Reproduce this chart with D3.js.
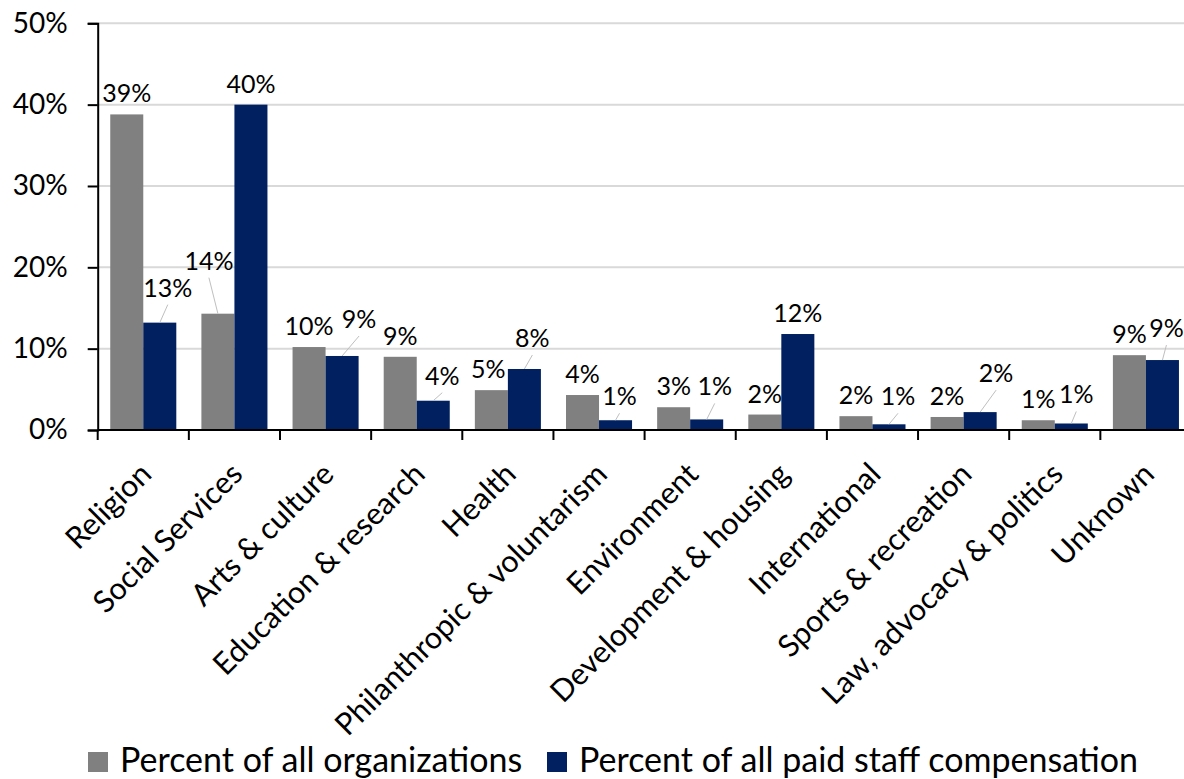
<!DOCTYPE html>
<html>
<head>
<meta charset="utf-8">
<script src="https://cdn.jsdelivr.net/npm/d3@7"></script>
<style>
  body { margin: 0; background: #fff; }
  svg { display: block; }
  text { font-family: Lato, "Open Sans", sans-serif; fill: #000; }
</style>
</head>
<body>
<svg id="chart" width="1184" height="779"></svg>
<script>
// Share of organizations and of paid staff compensation, by field
const categories = [
  "Religion", "Social Services", "Arts & culture", "Education & research",
  "Health", "Philanthropic & voluntarism", "Environment", "Development & housing",
  "International", "Sports & recreation", "Law, advocacy & politics", "Unknown"
];
const seriesNames = ["Percent of all organizations", "Percent of all paid staff compensation"];
const pctOrganizations = [0.388, 0.143, 0.102, 0.090, 0.049, 0.043, 0.028, 0.019, 0.017, 0.016, 0.012, 0.092];
const pctCompensation  = [0.132, 0.400, 0.091, 0.036, 0.075, 0.012, 0.013, 0.118, 0.007, 0.022, 0.008, 0.086];
const yTickValues = [0, 0.1, 0.2, 0.3, 0.4, 0.5];

// Data-label placement (px offsets from the top centre of each bar: [dx, baseline dy])
const orgLabelShift = [[0,-12],[-9,-44],[0,-12],[0,-12],[-3,-12],[0,-12],[0,-12],[0,-12],[0,-12],[0,-12],[0,-12],[0,-12]];
const compLabelShift = [[8,-26],[0,-12],[17,-28],[9,-16],[8,-22],[4,-15],[8,-24],[0,-12],[9,-19],[16,-30],[5,-20],[4,-23]];

const colors = ["#808080", "#002060"];
const svg = d3.select("#chart");

const margin = { left: 97.7, top: 23.3, bottom: 430 };
const x = d3.scaleBand().domain(categories).range([margin.left, margin.left + 91.15 * 12]).paddingInner(0).paddingOuter(0);
const xs = d3.scaleBand().domain([0, 1]).range([0, x.bandwidth()]).paddingInner(0).paddingOuter(0.38);
const y = d3.scaleLinear().domain([0, 0.5]).range([margin.bottom, margin.top]);

// Horizontal gridlines
svg.append("g")
  .selectAll("line")
  .data(yTickValues.filter(d => d > 0))
  .join("line")
  .attr("x1", margin.left).attr("x2", 1184)
  .attr("y1", d => y(d)).attr("y2", d => y(d))
  .attr("stroke", "#d9d9d9").attr("stroke-width", 2);

// Bars
const series = [pctOrganizations, pctCompensation];
const shifts = [orgLabelShift, compLabelShift];
series.forEach((vals, s) => {
  svg.append("g")
    .selectAll("rect")
    .data(vals)
    .join("rect")
    .attr("x", (d, i) => x(categories[i]) + xs(s))
    .attr("width", xs.bandwidth())
    .attr("y", d => y(d))
    .attr("height", d => y(0) - y(d))
    .attr("fill", colors[s]);
});

// Y axis
const yAxis = svg.append("g")
  .attr("transform", `translate(${margin.left},0)`)
  .call(d3.axisLeft(y).tickValues(yTickValues).tickFormat(d3.format(".0%")).tickSize(10).tickPadding(20));
yAxis.select(".domain").attr("stroke", "#000").attr("stroke-width", 2);
yAxis.selectAll(".tick line").attr("stroke", "#000").attr("stroke-width", 2);
yAxis.selectAll(".tick text").attr("font-size", 28).attr("font-family", "Lato, sans-serif").attr("fill", "#000");

// X axis: baseline with ticks at category boundaries
const boundaries = categories.map(c => x(c)).concat([x.range()[1]]);
svg.append("line")
  .attr("x1", margin.left).attr("x2", x.range()[1])
  .attr("y1", y(0)).attr("y2", y(0))
  .attr("stroke", "#000").attr("stroke-width", 2);
svg.append("g")
  .selectAll("line")
  .data(boundaries)
  .join("line")
  .attr("x1", d => d).attr("x2", d => d)
  .attr("y1", y(0)).attr("y2", y(0) + 10)
  .attr("stroke", "#000").attr("stroke-width", 2);

// Category labels, rotated
svg.append("g")
  .selectAll("text")
  .data(categories)
  .join("text")
  .attr("transform", d => `translate(${x(d) + x.bandwidth() / 2 + 10},${y(0) + 46}) rotate(-45)`)
  .attr("text-anchor", "end")
  .attr("font-size", 30.5)
  .text(d => d);

// Data labels with leader lines
const fmt = d3.format(".0%");
series.forEach((vals, s) => {
  const g = svg.append("g");
  vals.forEach((v, i) => {
    const cx = x(categories[i]) + xs(s) + xs.bandwidth() / 2;
    const top = y(v);
    const [dx, dy] = shifts[s][i];
    const lx = cx + dx, ly = top + dy;
    if (Math.abs(dx) > 3.5 || dy < -14) {
      g.append("line")
        .attr("x1", cx).attr("y1", top)
        .attr("x2", lx).attr("y2", ly + 8)
        .attr("stroke", "#bfbfbf").attr("stroke-width", 1);
    }
    g.append("text")
      .attr("x", lx).attr("y", ly)
      .attr("text-anchor", "middle")
      .attr("font-size", 25)
      .text(fmt(v));
  });
});

// Legend
const legend = svg.append("g").attr("transform", "translate(88,752)");
const legendX = [0, 459];
seriesNames.forEach((name, s) => {
  const item = legend.append("g").attr("transform", `translate(${legendX[s]},0)`);
  item.append("rect").attr("width", 20).attr("height", 20).attr("fill", colors[s]);
  item.append("text").attr("x", 32).attr("y", 20).attr("font-size", 34).text(name);
});
</script>
</body>
</html>
